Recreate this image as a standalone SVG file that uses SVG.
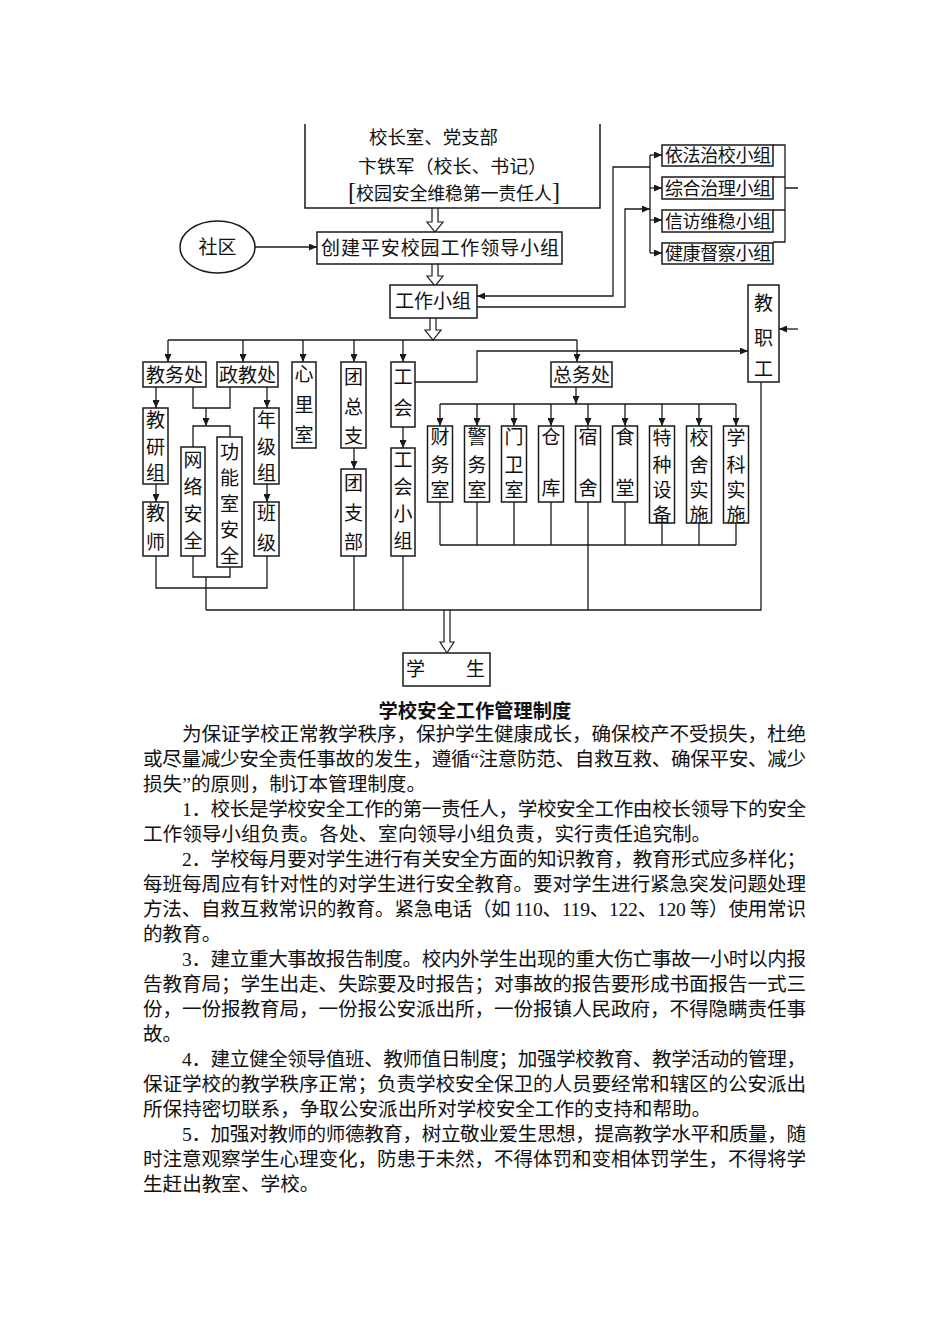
<svg xmlns="http://www.w3.org/2000/svg" width="950" height="1344" viewBox="0 0 950 1344">
<style>
.ln{fill:none;stroke:#1a1a1a;stroke-width:1.3}
.ar{fill:none;stroke:#1a1a1a;stroke-width:1.3;marker-end:url(#ah)}
.bx{fill:#fff;stroke:#1a1a1a;stroke-width:1.5}
.ho{fill:#fff;stroke:#1a1a1a;stroke-width:1.2}
.t{font-family:'Noto Sans CJK SC',sans-serif;font-size:19px;fill:#111}
.c{text-anchor:middle}
.s{font-size:18px}
.body{font-family:'Noto Sans CJK SC',sans-serif;font-size:19.6px;fill:#111}
.num{font-family:'Liberation Serif',serif}
.ttl{font-family:'Noto Sans CJK SC',sans-serif;font-size:19.3px;font-weight:bold;fill:#111;text-anchor:middle}
</style>
<defs>
<marker id="ah" viewBox="0 0 8 7" refX="8" refY="3.5" markerWidth="8" markerHeight="7" markerUnits="userSpaceOnUse" orient="auto">
<path d="M0,0 L8,3.5 L0,7 z" fill="#1a1a1a"/>
</marker>
</defs>
<rect width="950" height="1344" fill="#fff"/>

<g id="connectors">
<!-- hollow arrows -->
<path class="ho" d="M432,208 V222 H427 L435,232 L443,222 H438 V208"/>
<path class="ho" d="M432,264 V276 H427 L435,286 L443,276 H438 V264"/>
<path class="ho" d="M430,318 V330 H425 L433,340 L441,330 H436 V318"/>
<path class="ho" d="M444,610 V642 H440 L447,653 L454,642 H450 V610"/>
<!-- community -->
<path class="ar" d="M255,247 H317"/>
<!-- right groups -->
<path class="ln" d="M650,155 V253"/>
<path class="ar" d="M650,155 H662"/>
<path class="ar" d="M650,188 H662"/>
<path class="ar" d="M650,220 H662"/>
<path class="ar" d="M650,253 H662"/>
<path class="ar" d="M650,167 H613 V296 H477"/>
<path class="ar" d="M477,307 H625 V209 H650"/>
<path class="ln" d="M773,145 H785 V242 H773 M773,177 H785 M773,210 H785 M785,188 H798"/>
<path class="ar" d="M798,329 H779"/>
<!-- distribution -->
<path class="ln" d="M168,340 H577"/>
<path class="ar" d="M168,340 V362"/>
<path class="ar" d="M243,340 V362"/>
<path class="ar" d="M303,340 V362"/>
<path class="ar" d="M354,340 V362"/>
<path class="ar" d="M403,340 V362"/>
<path class="ar" d="M577,340 V362"/>
<path class="ar" d="M415,382 H477 V351 H748"/>
<!-- left branch -->
<path class="ar" d="M156,387 V408"/>
<path class="ar" d="M156,484 V502"/>
<path class="ar" d="M267,387 V408"/>
<path class="ar" d="M267,484 V502"/>
<path class="ln" d="M193,387 V408 H230 V387"/>
<path class="ar" d="M206,408 V426"/>
<path class="ln" d="M193,447 V426 H230 V437"/>
<path class="ar" d="M354,448 V469"/>
<path class="ar" d="M403,427 V448"/>
<path class="ln" d="M193,556 V577 H230 V567 M206,577 V610 M156,556 V588 H267 V556"/>
<path class="ln" d="M206,610 H761 V382 M354,556 V610 M403,556 V610 M588,502 V610"/>
<!-- general affairs -->
<path class="ar" d="M576,387 V404"/>
<path class="ln" d="M440,404 H736"/>
<path class="ar" d="M440,404 V426"/>
<path class="ar" d="M477,404 V426"/>
<path class="ar" d="M514,404 V426"/>
<path class="ar" d="M551,404 V426"/>
<path class="ar" d="M588,404 V426"/>
<path class="ar" d="M625,404 V426"/>
<path class="ar" d="M662,404 V426"/>
<path class="ar" d="M699,404 V426"/>
<path class="ar" d="M736,404 V426"/>
<path class="ln" d="M440,502 V545 M477,502 V545 M514,502 V545 M551,502 V545 M625,502 V545 M662,523 V545 M699,523 V545 M736,523 V545 M440,545 H736"/>
</g>

<g id="n-principal">
<path class="bx" d="M305,124 V208 H600 V124"/>
<text class="t s" x="369" y="144" textLength="129" lengthAdjust="spacingAndGlyphs">校长室、党支部</text>
<text class="t s" x="358" y="173" textLength="189" lengthAdjust="spacingAndGlyphs">卞铁军（校长、书记）</text>
<text class="t s" x="348" y="200" textLength="212" lengthAdjust="spacing"><tspan class="num" font-size="25">[</tspan>校园安全维稳第一责任人<tspan class="num" font-size="25">]</tspan></text>
</g>
<g id="n-community">
<ellipse cx="217.5" cy="247" rx="37.5" ry="26" class="bx"/>
<text class="t c" x="217.5" y="254" font-size="20">社区</text>
</g>
<g id="n-leader">
<rect class="bx" x="317" y="232" width="245" height="32"/>
<text class="t" x="321" y="255" textLength="238" lengthAdjust="spacing">创建平安校园工作领导小组</text>
</g>
<g id="n-workgroup">
<rect class="bx" x="390" y="285" width="87" height="33"/>
<text class="t c" x="433" y="308">工作小组</text>
</g>
<g id="n-g1"><rect class="bx" x="662" y="145" width="111" height="21"/><text class="t s" x="665" y="162" textLength="106" lengthAdjust="spacing">依法治校小组</text></g>
<g id="n-g2"><rect class="bx" x="662" y="177" width="111" height="22"/><text class="t s" x="665" y="194.5" textLength="106" lengthAdjust="spacing">综合治理小组</text></g>
<g id="n-g3"><rect class="bx" x="662" y="210" width="111" height="22"/><text class="t s" x="665" y="227.5" textLength="106" lengthAdjust="spacing">信访维稳小组</text></g>
<g id="n-g4"><rect class="bx" x="662" y="243" width="111" height="21"/><text class="t s" x="665" y="260" textLength="106" lengthAdjust="spacing">健康督察小组</text></g>
<g id="n-staff">
<rect class="bx" x="748" y="285" width="31" height="97"/>
<text class="t c" font-size="21"><tspan x="763.5" y="310">教</tspan><tspan x="763.5" y="345">职</tspan><tspan x="763.5" y="376">工</tspan></text>
</g>

<g id="n-jiaowu"><rect class="bx" x="143" y="362" width="63" height="25"/><text class="t c" x="174.5" y="381.5">教务处</text></g>
<g id="n-zhengjiao"><rect class="bx" x="217" y="362" width="61" height="25"/><text class="t c" x="247.5" y="381.5">政教处</text></g>
<g id="n-xinli"><rect class="bx" x="292" y="362" width="24" height="86"/><text class="t c"><tspan x="304" y="381">心</tspan><tspan x="304" y="412">里</tspan><tspan x="304" y="442">室</tspan></text></g>
<g id="n-tuanzongzhi"><rect class="bx" x="341" y="362" width="25" height="86"/><text class="t c"><tspan x="353.5" y="384">团</tspan><tspan x="353.5" y="414">总</tspan><tspan x="353.5" y="443">支</tspan></text></g>
<g id="n-gonghui"><rect class="bx" x="391" y="362" width="24" height="65"/><text class="t c"><tspan x="403" y="384">工</tspan><tspan x="403" y="415">会</tspan></text></g>
<g id="n-zongwu"><rect class="bx" x="551" y="362" width="61" height="25"/><text class="t c" x="581.5" y="381.5">总务处</text></g>

<g id="n-jiaoyanzu"><rect class="bx" x="143" y="408" width="25" height="76"/><text class="t c"><tspan x="155.5" y="427">教</tspan><tspan x="155.5" y="454">研</tspan><tspan x="155.5" y="480">组</tspan></text></g>
<g id="n-jiaoshi"><rect class="bx" x="143" y="502" width="25" height="54"/><text class="t c"><tspan x="155.5" y="520">教</tspan><tspan x="155.5" y="549">师</tspan></text></g>
<g id="n-nianjizu"><rect class="bx" x="254" y="408" width="25" height="76"/><text class="t c"><tspan x="266.5" y="427">年</tspan><tspan x="266.5" y="454">级</tspan><tspan x="266.5" y="480">组</tspan></text></g>
<g id="n-banji"><rect class="bx" x="254" y="502" width="25" height="54"/><text class="t c"><tspan x="266.5" y="520">班</tspan><tspan x="266.5" y="550">级</tspan></text></g>
<g id="n-wangluo"><rect class="bx" x="181" y="447" width="24" height="109"/><text class="t c"><tspan x="193" y="467">网</tspan><tspan x="193" y="494">络</tspan><tspan x="193" y="521">安</tspan><tspan x="193" y="548">全</tspan></text></g>
<g id="n-gongneng"><rect class="bx" x="217" y="437" width="25" height="130"/><text class="t c"><tspan x="229.5" y="459">功</tspan><tspan x="229.5" y="485">能</tspan><tspan x="229.5" y="511">室</tspan><tspan x="229.5" y="537">安</tspan><tspan x="229.5" y="563">全</tspan></text></g>
<g id="n-tuanzhibu"><rect class="bx" x="341" y="469" width="25" height="87"/><text class="t c"><tspan x="353.5" y="490">团</tspan><tspan x="353.5" y="520">支</tspan><tspan x="353.5" y="549">部</tspan></text></g>
<g id="n-gonghuixiaozu"><rect class="bx" x="391" y="448" width="24" height="108"/><text class="t c"><tspan x="403" y="467">工</tspan><tspan x="403" y="494">会</tspan><tspan x="403" y="521">小</tspan><tspan x="403" y="548">组</tspan></text></g>

<g id="n-caiwu"><rect class="bx" x="427.5" y="426" width="25" height="76"/><text class="t c"><tspan x="440" y="444">财</tspan><tspan x="440" y="472">务</tspan><tspan x="440" y="497">室</tspan></text></g>
<g id="n-jingwu"><rect class="bx" x="464.5" y="426" width="25" height="76"/><text class="t c"><tspan x="477" y="444">警</tspan><tspan x="477" y="472">务</tspan><tspan x="477" y="497">室</tspan></text></g>
<g id="n-menwei"><rect class="bx" x="501.5" y="426" width="25" height="76"/><text class="t c"><tspan x="514" y="444">门</tspan><tspan x="514" y="472">卫</tspan><tspan x="514" y="497">室</tspan></text></g>
<g id="n-cangku"><rect class="bx" x="538.5" y="426" width="25" height="76"/><text class="t c"><tspan x="551" y="444">仓</tspan><tspan x="551" y="495">库</tspan></text></g>
<g id="n-sushe"><rect class="bx" x="575.5" y="426" width="25" height="76"/><text class="t c"><tspan x="588" y="444">宿</tspan><tspan x="588" y="495">舍</tspan></text></g>
<g id="n-shitang"><rect class="bx" x="612.5" y="426" width="25" height="76"/><text class="t c"><tspan x="625" y="444">食</tspan><tspan x="625" y="495">堂</tspan></text></g>
<g id="n-tezhong"><rect class="bx" x="649.5" y="426" width="25" height="97"/><text class="t c"><tspan x="662" y="445">特</tspan><tspan x="662" y="472">种</tspan><tspan x="662" y="497">设</tspan><tspan x="662" y="522">备</tspan></text></g>
<g id="n-xiaoshe"><rect class="bx" x="686.5" y="426" width="25" height="97"/><text class="t c"><tspan x="699" y="445">校</tspan><tspan x="699" y="472">舍</tspan><tspan x="699" y="497">实</tspan><tspan x="699" y="522">施</tspan></text></g>
<g id="n-xueke"><rect class="bx" x="723.5" y="426" width="25" height="97"/><text class="t c"><tspan x="736" y="445">学</tspan><tspan x="736" y="472">科</tspan><tspan x="736" y="497">实</tspan><tspan x="736" y="522">施</tspan></text></g>

<g id="n-student">
<rect class="bx" x="403" y="653" width="87" height="33"/>
<text class="t" font-size="20"><tspan x="406" y="676">学</tspan><tspan x="466" y="676">生</tspan></text>
</g>

<g id="document">
<text class="ttl" x="475" y="718">学校安全工作管理制度</text>
<text class="body" x="182" y="741" textLength="624" lengthAdjust="spacing">为保证学校正常教学秩序，保护学生健康成长，确保校产不受损失，杜绝</text>
<text class="body" x="143" y="766" textLength="663" lengthAdjust="spacing">或尽量减少安全责任事故的发生，遵循<tspan class="num">“</tspan>注意防范、自救互救、确保平安、减少</text>
<text class="body" x="143" y="791">损失<tspan class="num">”</tspan>的原则，制订本管理制度。</text>
<text class="body" x="182" y="816" textLength="624" lengthAdjust="spacing"><tspan class="num">1</tspan>．校长是学校安全工作的第一责任人，学校安全工作由校长领导下的安全</text>
<text class="body" x="143" y="841">工作领导小组负责。各处、室向领导小组负责，实行责任追究制。</text>
<text class="body" x="182" y="866" textLength="624" lengthAdjust="spacing"><tspan class="num">2</tspan>．学校每月要对学生进行有关安全方面的知识教育，教育形式应多样化；</text>
<text class="body" x="143" y="891" textLength="663" lengthAdjust="spacing">每班每周应有针对性的对学生进行安全教育。要对学生进行紧急突发问题处理</text>
<text class="body" x="143" y="916" textLength="663" lengthAdjust="spacing">方法、自救互救常识的教育。紧急电话（如 <tspan class="num">110</tspan>、<tspan class="num">119</tspan>、<tspan class="num">122</tspan>、<tspan class="num">120</tspan> 等）使用常识</text>
<text class="body" x="143" y="941">的教育。</text>
<text class="body" x="182" y="966" textLength="624" lengthAdjust="spacing"><tspan class="num">3</tspan>．建立重大事故报告制度。校内外学生出现的重大伤亡事故一小时以内报</text>
<text class="body" x="143" y="991" textLength="663" lengthAdjust="spacing">告教育局；学生出走、失踪要及时报告；对事故的报告要形成书面报告一式三</text>
<text class="body" x="143" y="1016" textLength="663" lengthAdjust="spacing">份，一份报教育局，一份报公安派出所，一份报镇人民政府，不得隐瞒责任事</text>
<text class="body" x="143" y="1041">故。</text>
<text class="body" x="182" y="1066" textLength="624" lengthAdjust="spacing"><tspan class="num">4</tspan>．建立健全领导值班、教师值日制度；加强学校教育、教学活动的管理，</text>
<text class="body" x="143" y="1091" textLength="663" lengthAdjust="spacing">保证学校的教学秩序正常；负责学校安全保卫的人员要经常和辖区的公安派出</text>
<text class="body" x="143" y="1116">所保持密切联系，争取公安派出所对学校安全工作的支持和帮助。</text>
<text class="body" x="182" y="1141" textLength="624" lengthAdjust="spacing"><tspan class="num">5</tspan>．加强对教师的师德教育，树立敬业爱生思想，提高教学水平和质量，随</text>
<text class="body" x="143" y="1166" textLength="663" lengthAdjust="spacing">时注意观察学生心理变化，防患于未然，不得体罚和变相体罚学生，不得将学</text>
<text class="body" x="143" y="1191">生赶出教室、学校。</text>
</g>
</svg>
